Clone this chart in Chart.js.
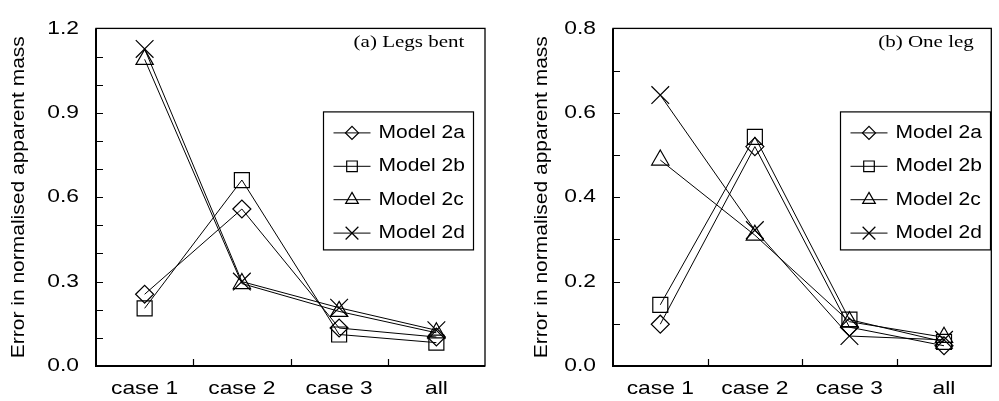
<!DOCTYPE html>
<html>
<head>
<meta charset="utf-8">
<script src="https://cdn.jsdelivr.net/npm/chart.js@4/dist/chart.umd.min.js"></script>
<style>
  html, body { margin: 0; padding: 0; background: #fff; overflow: hidden; width: 999px; height: 401px; }
  .panel { position: absolute; top: 0; height: 401px; }
  #panelBent { left: 0; width: 500px; }
  #panelOneLeg { left: 500px; width: 505px; }
  canvas { display: block; }
</style>
</head>
<body>
<div class="panel" id="panelBent"><canvas id="bent" width="500" height="401"></canvas></div>
<div class="panel" id="panelOneLeg"><canvas id="oneLeg" width="505" height="401"></canvas></div>
<script>
// ---- data ----
const CATEGORIES = ['case 1', 'case 2', 'case 3', 'all'];
const SERIES_NAMES = ['Model 2a', 'Model 2b', 'Model 2c', 'Model 2d'];

// (a) Legs bent
const BENT_2A = [0.255, 0.558, 0.135, 0.103];
const BENT_2B = [0.205, 0.661, 0.112, 0.083];
const BENT_2C = [1.09, 0.293, 0.194, 0.118];
const BENT_2D = [1.127, 0.300, 0.207, 0.127];
const BENT_Y_LABELS = ['0.0', '0.3', '0.6', '0.9', '1.2'];

// (b) One leg
const ONE_LEG_2A = [0.099, 0.520, 0.092, 0.048];
const ONE_LEG_2B = [0.145, 0.543, 0.110, 0.057];
const ONE_LEG_2C = [0.488, 0.310, 0.105, 0.068];
const ONE_LEG_2D = [0.642, 0.322, 0.071, 0.062];
const ONE_LEG_Y_LABELS = ['0.0', '0.2', '0.4', '0.6', '0.8'];

const Y_TITLE = 'Error in normalised apparent mass';

// ---- styling ----
const SANS = '"Liberation Sans", Arial, Helvetica, sans-serif';
const SERIF = '"Liberation Serif", "Times New Roman", serif';
const TEXT_STRETCH = 1.2;
const MARKERS = [
  { pointStyle: 'rectRot', radius: 9, legendRadius: 6.5 },
  { pointStyle: 'rect', radius: 10.6, legendRadius: 7.5 },
  { pointStyle: 'triangle', radius: 10, legendRadius: 7.3 },
  { pointStyle: 'crossRot', radius: 12.5, legendRadius: 9 }
];

// wide lettering: every text run is drawn with a horizontal stretch
const widenText = {
  id: 'widenText',
  beforeInit(chart) {
    const ctx = chart.ctx;
    const base = CanvasRenderingContext2D.prototype.fillText;
    ctx.fillText = function (text, x, y) {
      this.save();
      this.translate(x, y);
      this.scale(TEXT_STRETCH, 1);
      base.call(this, text, 0, 0);
      this.restore();
    };
  }
};

// plot frame with inward tick marks
const frameAndTicks = {
  id: 'frameAndTicks',
  afterDatasetsDraw(chart) {
    const { ctx, chartArea: a, scales: { x, y } } = chart;
    ctx.save();
    ctx.strokeStyle = '#000';
    ctx.lineWidth = 1.2;
    ctx.beginPath();
    y.ticks.forEach(t => {
      const py = Math.round(y.getPixelForValue(t.value)) + 0.5;
      ctx.moveTo(a.left, py);
      ctx.lineTo(a.left + 7, py);
    });
    for (let i = 0; i < CATEGORIES.length - 1; i++) {
      const px = Math.round((x.getPixelForValue(i) + x.getPixelForValue(i + 1)) / 2) + 0.5;
      ctx.moveTo(px, a.bottom);
      ctx.lineTo(px, a.bottom - 7);
    }
    ctx.stroke();
    ctx.lineWidth = 1.3;
    ctx.strokeRect(a.left, a.top, a.right - a.left, a.bottom - a.top);
    ctx.lineWidth = 2;
    ctx.beginPath();
    ctx.moveTo(a.left, a.top);
    ctx.lineTo(a.left, a.bottom);
    ctx.lineTo(a.right, a.bottom);
    ctx.stroke();
    ctx.restore();
  }
};

// boxed legend with line + marker samples, and the panel caption
const seriesLegend = {
  id: 'seriesLegend',
  afterDraw(chart, args, opts) {
    const { ctx, chartArea: a } = chart;
    ctx.save();
    // caption
    ctx.fillStyle = '#000';
    ctx.font = '17.5px ' + SERIF;
    ctx.textAlign = 'center';
    ctx.textBaseline = 'middle';
    ctx.fillText(opts.caption, a.left + 313, 42);

    const bx = a.left + 227.5, by = a.top + 83.5, bw = 150, bh = 138;
    ctx.fillStyle = '#fff';
    ctx.fillRect(bx, by, bw, bh);
    ctx.strokeStyle = '#000';
    ctx.lineWidth = 1.2;
    ctx.strokeRect(bx, by, bw, bh);
    chart.data.datasets.forEach((ds, i) => {
      const cy = by + 21 + i * 33.4;
      ctx.strokeStyle = '#000';
      ctx.lineWidth = 1;
      ctx.beginPath();
      ctx.moveTo(bx + 10, cy);
      ctx.lineTo(bx + 47, cy);
      ctx.stroke();
      ctx.fillStyle = 'rgba(0,0,0,0)';
      ctx.lineWidth = 1.2;
      Chart.helpers.drawPoint(ctx, {
        pointStyle: MARKERS[i].pointStyle,
        radius: MARKERS[i].legendRadius,
        rotation: 0,
        borderWidth: 1.2
      }, bx + 28.5, cy);
      ctx.fillStyle = '#000';
      ctx.font = '17.5px ' + SANS;
      ctx.textAlign = 'left';
      ctx.textBaseline = 'middle';
      ctx.fillText(ds.label, bx + 55, cy);
    });
    ctx.restore();
  }
};

function buildChart(canvasId, seriesList, yMax, yLabels, caption, axisWidth, titleOffset, rightPad) {
  const datasets = seriesList.map((values, i) => ({
    label: SERIES_NAMES[i],
    data: values,
    borderColor: '#000',
    borderWidth: 1,
    tension: 0,
    fill: false,
    pointStyle: MARKERS[i].pointStyle,
    pointRadius: MARKERS[i].radius,
    pointHoverRadius: MARKERS[i].radius,
    pointBorderWidth: 1.2,
    pointBorderColor: '#000',
    pointBackgroundColor: 'rgba(0,0,0,0)'
  }));

  return new Chart(document.getElementById(canvasId), {
    type: 'line',
    data: { labels: CATEGORIES, datasets },
    plugins: [widenText, frameAndTicks, seriesLegend],
    options: {
      responsive: false,
      animation: false,
      events: [],
      layout: { padding: { left: 0, right: rightPad, top: 16, bottom: 0 } },
      plugins: {
        legend: { display: false },
        tooltip: { enabled: false },
        seriesLegend: { caption }
      },
      scales: {
        x: {
          type: 'category',
          offset: true,
          grid: { display: false, drawTicks: false },
          border: { display: false },
          ticks: {
            autoSkip: false,
            maxRotation: 0,
            padding: 11,
            color: '#000',
            font: { family: SANS, size: 19 }
          },
          afterFit(scale) { scale.height = 35; }
        },
        y: {
          min: 0,
          max: yMax,
          grid: { display: false, drawTicks: false },
          border: { display: false },
          ticks: {
            stepSize: 0.1,
            maxTicksLimit: 20,
            padding: 17,
            color: '#000',
            font: { family: SANS, size: 19 },
            callback(value) {
              const s = Number(value).toFixed(1);
              return yLabels.includes(s) ? s : '';
            }
          },
          title: {
            display: true,
            text: Y_TITLE,
            color: '#000',
            font: { family: SANS, size: 17.5 },
            padding: { top: titleOffset, bottom: 0 }
          },
          afterFit(scale) { scale.width = axisWidth; }
        }
      }
    }
  });
}

buildChart('bent', [BENT_2A, BENT_2B, BENT_2C, BENT_2D], 1.2, BENT_Y_LABELS,
  '(a) Legs bent', 96, 9, 15);
buildChart('oneLeg', [ONE_LEG_2A, ONE_LEG_2B, ONE_LEG_2C, ONE_LEG_2D], 0.8, ONE_LEG_Y_LABELS,
  '(b) One leg', 113, 32, 3);
</script>
</body>
</html>
